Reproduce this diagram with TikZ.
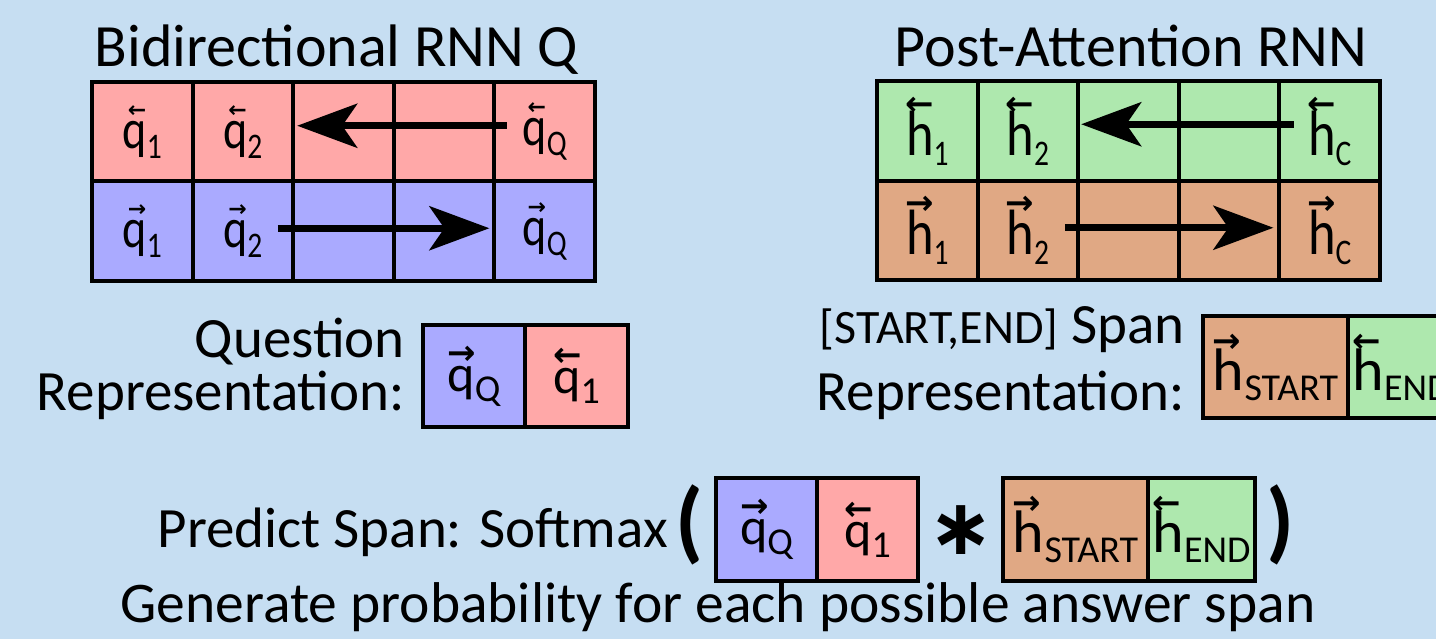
\documentclass[tikz,border=0pt]{standalone}
\usepackage{fontspec}
\setmainfont{Carlito}
\newfontfamily\condfont[FakeStretch=0.82]{Carlito}
\newfontfamily\arrfont{DejaVu Sans}
\usetikzlibrary{arrows.meta}

\definecolor{bgblue}{HTML}{C6DEF2}
\definecolor{fwdpink}{HTML}{FFA8A8}
\definecolor{fwdblue}{HTML}{AAAAFF}
\definecolor{bwdgreen}{HTML}{AEE8AE}
\definecolor{fwdtan}{HTML}{E0A884}

% vector symbol: #1 letter, #2 subscript, #3 arrow glyph,
% #4 arrow size, #5 arrow raise, #6 arrow kern, #7 subscript size
\newcommand\vsym[7]{\makebox[0pt][l]{\kern#6\raisebox{#5}{\arrfont\bfseries\fontsize{#4}{#4}\selectfont #3}}#1\raisebox{-10pt}{\fontsize{#7}{#7}\selectfont #2}}
% states inside the RNN grids
\newcommand\gq[2]{{\condfont\fontsize{56}{60}\selectfont\vsym{q}{#2}{#1}{22}{31pt}{5pt}{36}}}
\newcommand\gh[2]{{\condfont\fontsize{64}{66}\selectfont\vsym{h}{#2}{#1}{34}{40pt}{-1pt}{36}}}
% states inside the representation boxes
\newcommand\bq[2]{{\fontsize{52}{56}\selectfont\vsym{q}{#2}{#1}{34}{27pt}{0pt}{38}}}
\newcommand\bh[2]{{\fontsize{60}{64}\selectfont\vsym{h}{#2}{#1}{34}{38pt}{0pt}{38}}}
\newcommand\ra{→}
\newcommand\la{←}

\tikzset{
  cellbox/.style={draw, line width=4pt, inner sep=0pt, outer sep=0pt,
    minimum width=100.6pt, minimum height=99.5pt},
  flowarrow/.style={line width=7pt,
    -{Stealth[length=60pt, width=44pt, inset=15pt]}},
  heading/.style={anchor=base, inner sep=0pt, font=\fontsize{60}{64}\selectfont},
  caption/.style={anchor=base east, inner sep=0pt, font=\fontsize{57}{60}\selectfont},
  paren/.style={inner sep=0pt, font=\bfseries\fontsize{90}{90}\selectfont},
}

\begin{document}
\begin{tikzpicture}[x=1pt, y=-1pt]
\fill[bgblue] (0,0) rectangle (1436,639);
\useasboundingbox (0,0) rectangle (1436,639);
\clip (0,0) rectangle (1436,639);

% ---------- Bidirectional RNN over the question ----------
\node[heading] (qtitle) at (336.5,67) {Bidirectional RNN Q};
\foreach \i/\x in {1/142.3, 2/242.9, 3/343.5, 4/444.1, 5/544.7} {
  \node[cellbox, fill=fwdpink] (qb\i) at (\x,131.75) {};
  \node[cellbox, fill=fwdblue] (qf\i) at (\x,231.25) {};
}
\node at (qb1) {\gq{\la}{1}};
\node at (qb2) {\gq{\la}{2}};
\node at (qb5) {\gq{\la}{Q}};
\node at (qf1) {\gq{\ra}{1}};
\node at (qf2) {\gq{\ra}{2}};
\node at (qf5) {\gq{\ra}{Q}};
\draw[flowarrow] ([xshift=-38pt, yshift=6pt]qb5.center) -- ([xshift=4pt, yshift=6pt]qb3.west);
\draw[flowarrow] ([xshift=35pt, yshift=3pt]qf2.center) -- ([xshift=-5pt, yshift=3pt]qf5.west);

% ---------- Post-attention RNN over the context ----------
\node[heading] (htitle) at (1131,67) {Post-Attention RNN};
\foreach \i/\x in {1/927.3, 2/1027.9, 3/1128.5, 4/1229.1, 5/1329.7} {
  \node[cellbox, fill=bwdgreen] (hb\i) at (\x,131.25) {};
  \node[cellbox, fill=fwdtan] (hf\i) at (\x,230.75) {};
}
\node at (hb1) {\gh{\la}{1}};
\node at (hb2) {\gh{\la}{2}};
\node at (hb5) {\gh{\la}{C}};
\node at (hf1) {\gh{\ra}{1}};
\node at (hf2) {\gh{\ra}{2}};
\node at (hf5) {\gh{\ra}{C}};
\draw[flowarrow] ([xshift=-36pt, yshift=7pt]hb5.center) -- ([xshift=3pt, yshift=7pt]hb3.west);
\draw[flowarrow] ([xshift=37pt, yshift=3pt]hf2.center) -- ([xshift=-6pt, yshift=3pt]hf5.west);

% ---------- Question representation ----------
\node[caption] (qcap1) at (405,357) {Question};
\node[caption] (qcap2) at (405,410) {Representation:};
\node[cellbox, fill=fwdblue, minimum width=102pt, minimum height=102pt] (qr1) at (474,376) {\bq{\ra}{Q}};
\node[cellbox, fill=fwdpink, minimum width=103pt, minimum height=102pt] (qr2) at (576.5,376) {\bq{\la}{1}};

% ---------- Span representation ----------
\node[caption] (scap1) at (1185,343) {{\fontsize{48}{50}\selectfont [START,END]} Span};
\node[caption] (scap2) at (1185,410) {Representation:};
\node[cellbox, fill=fwdtan, minimum width=145pt, minimum height=102pt] (sr1) at (1275.5,367) {\bh{\ra}{START}};
\node[cellbox, fill=bwdgreen, minimum width=107pt, minimum height=102pt] (sr2) at (1401.5,367) {\bh{\la}{END}};

% ---------- Span prediction ----------
\node[caption] (pred) at (668,547) {Predict Span: Softmax};
\node[paren] (lpar) at (690,524.5) {(};
\node[cellbox, fill=fwdblue, minimum width=101pt, minimum height=103pt] (pq1) at (766.5,529.5) {\bq{\ra}{Q}};
\node[cellbox, fill=fwdpink, minimum width=101pt, minimum height=103pt] (pq2) at (867.5,529.5) {\bq{\la}{1}};
\node[inner sep=0pt, font=\arrfont\bfseries\fontsize{78}{78}\selectfont] (prod) at (961,530) {∗};
\node[cellbox, fill=fwdtan, minimum width=145pt, minimum height=103pt] (ph1) at (1075.5,529.5) {\bh{\ra}{START}};
\node[cellbox, fill=bwdgreen, minimum width=107pt, minimum height=103pt] (ph2) at (1201.5,529.5) {\bh{\la}{END}};
\node[paren] (rpar) at (1281,524.5) {)};
\node[anchor=base, inner sep=0pt, font=\fontsize{57.5}{60}\selectfont] (gen) at (718,622) {Generate probability for each possible answer span};
\end{tikzpicture}
\end{document}
